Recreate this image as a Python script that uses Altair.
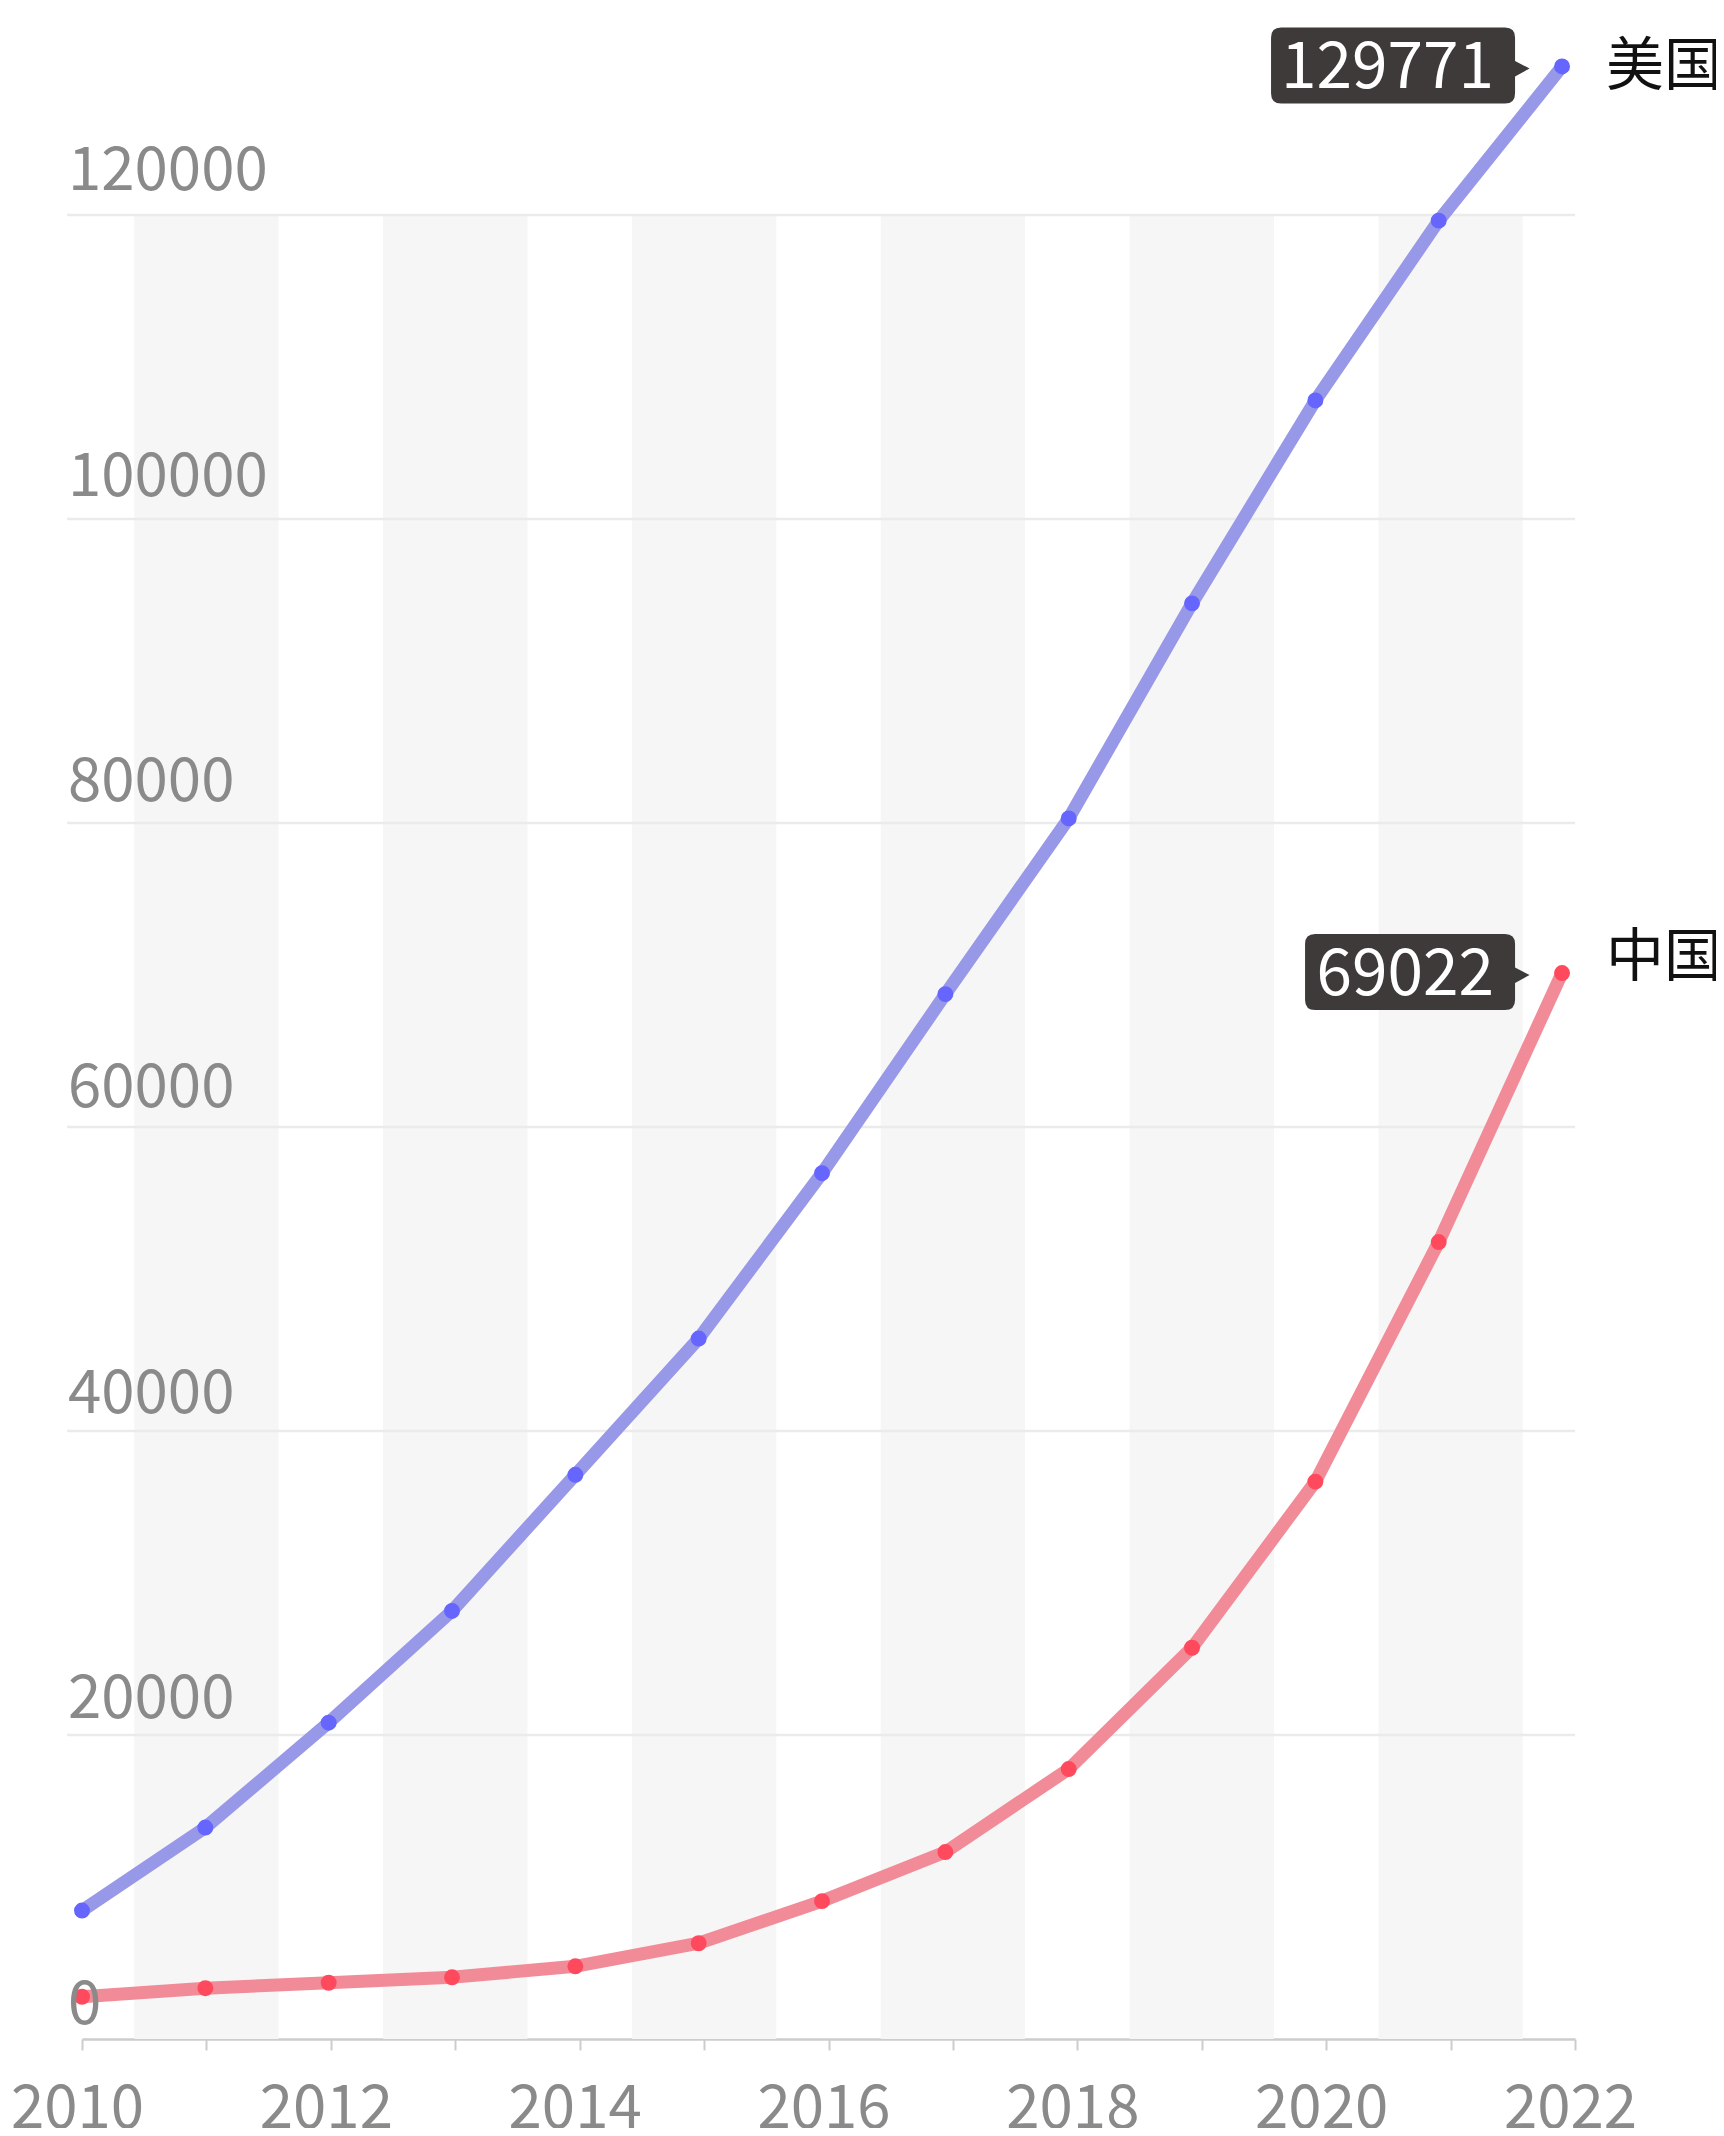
import altair as alt
import pandas as pd

# ---------------- data ----------------
years = list(range(2010, 2023))
us_values = [8450, 13910, 20810, 28160, 37120, 46080, 56960, 68740, 80300, 94450, 107800, 119630, 129771]
cn_values = [2780, 3340, 3700, 4060, 4780, 6300, 9070, 12300, 17760, 25740, 36670, 52430, 70130]
countries = ["美国", "中国"]
end_labels = ["129771", "69022"]
band_years = [2011, 2013, 2015, 2017, 2019, 2021]
y_ticks = [0, 20000, 40000, 60000, 80000, 100000, 120000]

FONT = "Noto Sans CJK SC"
W, H = 1493, 1976
YDOM = [0, 130000]

df = pd.DataFrame({
    "year": years * 2,
    "value": us_values + cn_values,
    "country": [countries[0]] * len(years) + [countries[1]] * len(years),
})
end_df = pd.DataFrame({
    "country": countries,
    "year": [years[-1], years[-1]],
    "value": [us_values[-1], cn_values[-1]],
    "label": end_labels,
})

x_bg = alt.Scale(domain=[2010, 2022], nice=False, zero=False)
x_data = alt.Scale(domain=[2010, 2022.105], nice=False, zero=False)
y_sc = alt.Scale(domain=YDOM, nice=False, zero=False)

# ---------------- background: bands, grid, x axis ----------------
x_axis = alt.Axis(
    values=years, format="d", title=None, grid=False,
    labelExpr="datum.value % 2 == 0 ? datum.label : ''",
    domainColor="#cccccc", domainWidth=2.5,
    tickColor="#cccccc", tickWidth=2, tickSize=11,
    labelFont=FONT, labelFontSize=60, labelColor="#8a8a8a",
    labelPadding=77, labelBaseline="alphabetic", labelOffset=-5,
    labelFlush=False, labelOverlap=False,
)

bands = alt.Chart(pd.DataFrame({"year": band_years})).transform_calculate(
    lo="datum.year - 0.58", hi="datum.year + 0.58"
).mark_rect(color="#f6f6f6").encode(
    x=alt.X("lo:Q", scale=x_bg, axis=x_axis),
    x2="hi:Q",
    y=alt.YDatum(0, scale=y_sc, axis=None),
    y2=alt.datum(120000),
)

grid = alt.Chart(pd.DataFrame({"v": y_ticks[1:]})).mark_rule(
    color="#ebebeb", strokeWidth=2.5
).encode(
    x=alt.XDatum(2009.879, scale=x_bg),
    x2=alt.datum(2022),
    y=alt.Y("v:Q", scale=y_sc, axis=None),
)

bg = alt.layer(bands, grid)

# ---------------- data layers ----------------
X = alt.X("year:Q", scale=x_data, axis=None)
Y = alt.Y("value:Q", scale=y_sc, axis=None)

lines = alt.Chart(df).mark_line(strokeWidth=13).encode(
    x=X, y=Y,
    stroke=alt.Stroke("country:N", scale=alt.Scale(domain=countries, range=["#9898e8", "#f28b98"]), legend=None),
    detail="country:N",
)
pts = alt.Chart(df).mark_circle(size=254, opacity=1).encode(
    x=X, y=Y,
    fill=alt.Fill("country:N", scale=alt.Scale(domain=countries, range=["#6666ff", "#ff4a5e"]), legend=None),
)

def box_path(left):
    r = 0.1
    return (
        f"M {left + r} -0.39 L -0.57 -0.39 Q -0.47 -0.39 -0.47 -0.29 "
        f"L -0.47 -0.055 L -0.325 0.02 L -0.47 0.10 L -0.47 0.27 "
        f"Q -0.47 0.37 -0.57 0.37 L {left + r} 0.37 Q {left} 0.37 {left} 0.27 "
        f"L {left} -0.29 Q {left} -0.39 {left + r} -0.39 Z"
    )

box_us = alt.Chart(end_df).transform_filter(alt.datum.country == countries[0]).mark_point(
    shape=box_path(-2.91), size=40000, filled=True, color="#3d3a39", opacity=1, strokeWidth=0
).encode(x=X, y=Y)
box_cn = alt.Chart(end_df).transform_filter(alt.datum.country == countries[1]).mark_point(
    shape=box_path(-2.57), size=40000, filled=True, color="#3d3a39", opacity=1, strokeWidth=0
).encode(x=X, y=Y)

box_text = alt.Chart(end_df).mark_text(
    align="right", baseline="alphabetic", dx=-68, dy=22,
    fontSize=64, color="white", font=FONT
).encode(x=X, y=Y, text="label:N")

name_us = alt.Chart(end_df).transform_filter(alt.datum.country == countries[0]).mark_text(
    align="left", baseline="middle", dx=44, dy=2, fontSize=58, color="#111111", font=FONT
).encode(x=X, y=Y, text="country:N")
name_cn = alt.Chart(end_df).transform_filter(alt.datum.country == countries[1]).mark_text(
    align="left", baseline="middle", dx=44, dy=-14, fontSize=58, color="#111111", font=FONT
).encode(x=X, y=Y, text="country:N")

data_layer = alt.layer(lines, pts, box_us, box_cn, box_text, name_us, name_cn)

# ---------------- y labels ----------------
ylab = alt.Chart(pd.DataFrame({"v": y_ticks})).mark_text(
    align="left", baseline="alphabetic", fontSize=60, color="#8a8a8a", font=FONT
).encode(
    x=alt.XDatum(2009.887, scale=x_bg, axis=None),
    y=alt.Y("v:Q", scale=alt.Scale(domain=YDOM, range=[1961, 1961 - 130000 * 0.015283]), axis=None),
    text=alt.Text("v:Q", format="d"),
)

chart = alt.layer(bg, data_layer, ylab).resolve_scale(
    x="independent", y="independent"
).properties(
    width=W, height=H,
    autosize=alt.AutoSizeParams(type="none"),
    padding={"left": 74, "top": 55, "right": 141, "bottom": 89},
).configure(background="white").configure_view(stroke=None)

chart.save("out.html", embed_options={"renderer": "svg", "actions": False})
